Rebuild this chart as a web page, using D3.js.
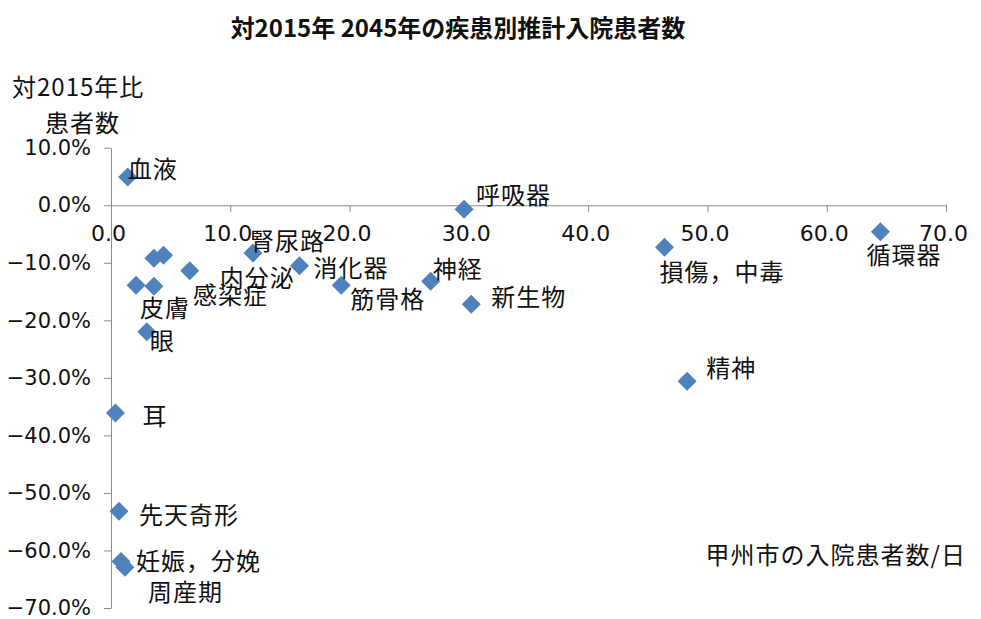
<!DOCTYPE html>
<html>
<head>
<meta charset="utf-8">
<script src="https://cdn.jsdelivr.net/npm/d3@7"></script>
<style>
  body { margin: 0; background: #fff; }
  text { font-family: "Noto Sans CJK JP", "Noto Sans", sans-serif; fill: #111; }
  .axis path, .axis line { stroke: #8c8c8c; }
  .lbl { font-size: 24px; letter-spacing: 1px; }
  .tk { font-family: "DejaVu Sans", sans-serif; font-size: 22px; }
</style>
</head>
<body>
<div id="chart"></div>
<script>
// disease categories, 2015 patients/day (x) and change vs 2015 (y)
var names = ["血液", "", "", "内分泌", "腎尿路", "消化器", "皮膚", "感染症", "眼", "耳",
    "先天奇形", "妊娠，分娩", "周産期", "呼吸器", "筋骨格", "神経", "新生物", "損傷，中毒", "循環器", "精神"];
var patients = [1.4, 3.6, 4.4, 6.6, 11.9, 15.8, 2.1, 3.6, 3.0, 0.37,
    0.67, 0.84, 1.17, 29.6, 19.3, 26.8, 30.2, 46.4, 64.5, 48.3];
var change = [0.049, -0.092, -0.087, -0.114, -0.083, -0.105, -0.139, -0.141, -0.220, -0.361,
    -0.532, -0.619, -0.629, -0.007, -0.139, -0.132, -0.172, -0.073, -0.046, -0.306];
var xTicks = [0, 10, 20, 30, 40, 50, 60, 70];
var yTicks = [0.1, 0, -0.1, -0.2, -0.3, -0.4, -0.5, -0.6, -0.7];

// label placement (manually dragged in the original)
var labelOffset = {
    "血液": [0, -10], "腎尿路": [-3, -13], "内分泌": [30, 6], "感染症": [39, 7],
    "皮膚": [4, 21], "眼": [3, 8], "消化器": [14, 1], "筋骨格": [9, 12],
    "神経": [2, -14], "新生物": [20, -9], "呼吸器": [12, -16], "損傷，中毒": [-5, 23],
    "循環器": [-14, 22], "精神": [19, -15], "耳": [27, 2], "先天奇形": [20, 2],
    "妊娠，分娩": [15, -2], "周産期": [23, 23]
};

var width = 981, height = 619;
var data = names.map(function(n, i) {
    return {name: n, x: patients[i], y: change[i]};
});

var svg = d3.select("#chart").append("svg")
    .attr("width", width)
    .attr("height", height);

var xScale = d3.scaleLinear().domain([0, 70]).range([111, 946]);
var yScale = d3.scaleLinear().domain([-0.7, 0.1]).range([608, 147.7]);

// title
svg.append("text")
    .attr("x", 458).attr("y", 26)
    .attr("text-anchor", "middle")
    .attr("dominant-baseline", "central")
    .style("font-size", "24px")
    .style("font-weight", "bold")
    .text("対2015年 2045年の疾患別推計入院患者数");

// y axis
var yAxis = svg.append("g")
    .attr("class", "axis")
    .attr("transform", "translate(" + xScale(0) + ",0)")
    .call(d3.axisLeft(yScale).tickValues(yTicks).tickSize(7).tickSizeOuter(0)
        .tickFormat(function(d) { return d3.format(".1f")(d * 100).replace("-", "−") + "%"; }));
yAxis.selectAll(".tick text")
    .attr("class", "tk")
    .attr("x", -20)
    .style("font-size", "21px")
    .attr("fill", "#111");

// x axis crossing at 0%
var xAxis = svg.append("g")
    .attr("class", "axis")
    .attr("transform", "translate(0," + yScale(0) + ")")
    .call(d3.axisBottom(xScale).tickValues(xTicks).tickSize(7).tickSizeOuter(0)
        .tickFormat(d3.format(".1f")));
xAxis.selectAll(".tick text")
    .attr("class", "tk")
    .attr("y", 20)
    .attr("dx", -3)
    .attr("fill", "#111");
svg.selectAll(".axis .domain").attr("stroke", "#8c8c8c");

// axis titles
svg.append("text").attr("class", "lbl").attr("x", 12).attr("y", 85)
    .attr("dominant-baseline", "central")
    .text("対2015年比");
svg.append("text").attr("class", "lbl").attr("x", 45).attr("y", 121)
    .attr("dominant-baseline", "central")
    .text("患者数");
svg.append("text").attr("class", "lbl").attr("x", 966).attr("y", 553)
    .attr("text-anchor", "end")
    .attr("dominant-baseline", "central")
    .text("甲州市の入院患者数/日");

// markers
var r = 9.5;
svg.append("g").selectAll("path")
    .data(data)
    .join("path")
    .attr("transform", function(d) { return "translate(" + xScale(d.x) + "," + yScale(d.y) + ")"; })
    .attr("d", "M0," + (-r) + "L" + r + ",0L0," + r + "L" + (-r) + ",0Z")
    .attr("fill", "#4f81bd");

// point labels
svg.append("g").selectAll("text")
    .data(data.filter(function(d) { return d.name !== ""; }))
    .join("text")
    .attr("class", "lbl")
    .attr("x", function(d) { return xScale(d.x) + labelOffset[d.name][0]; })
    .attr("y", function(d) { return yScale(d.y) + labelOffset[d.name][1]; })
    .attr("dominant-baseline", "central")
    .text(function(d) { return d.name; });
</script>
</body>
</html>
